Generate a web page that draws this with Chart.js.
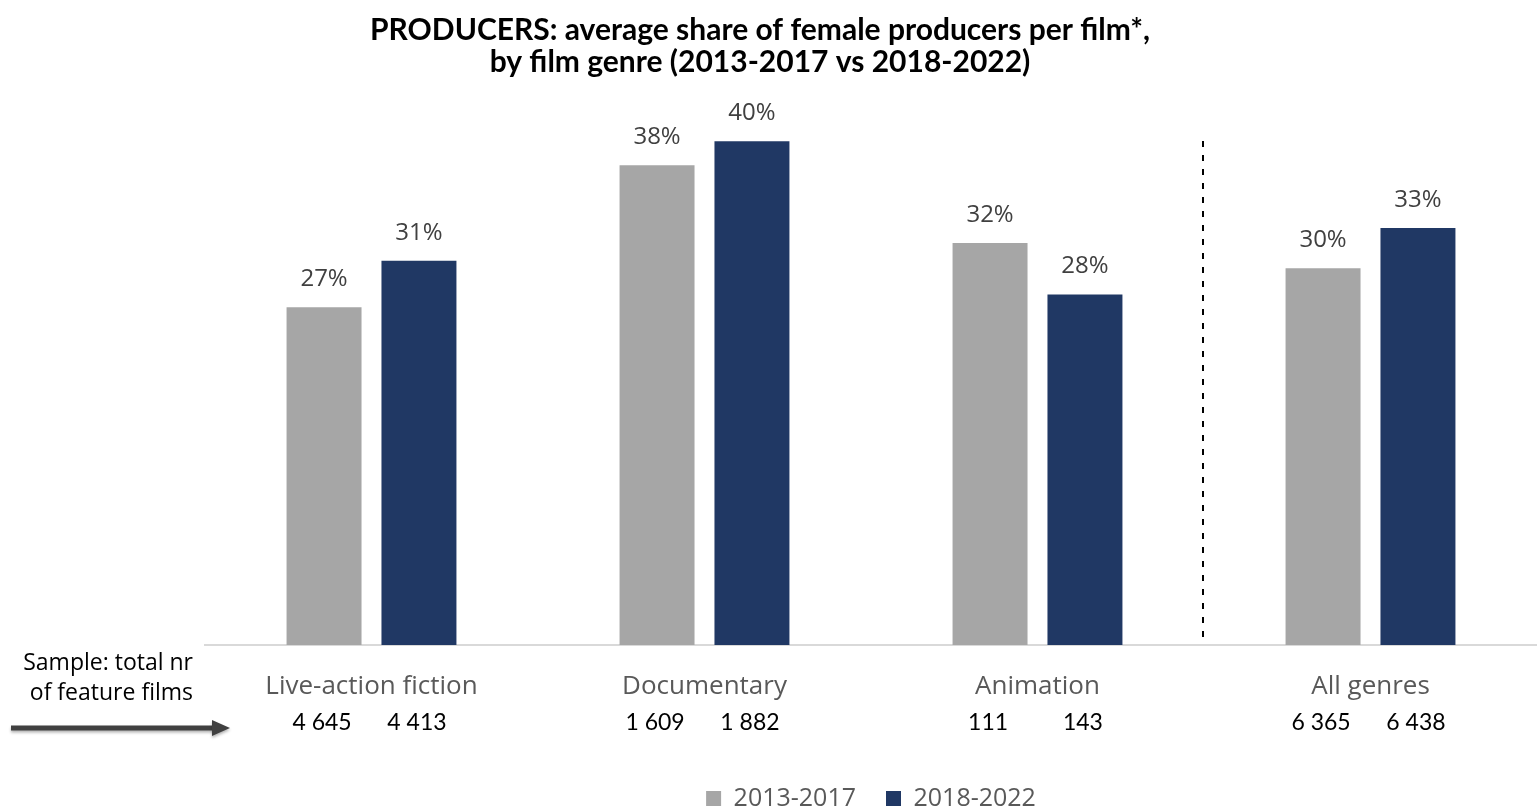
<!DOCTYPE html>
<html>
<head>
<meta charset="utf-8">
<script src="https://cdn.jsdelivr.net/npm/chart.js@4.4.1/dist/chart.umd.min.js"></script>
<style>
  html, body { margin: 0; padding: 0; background: #fff; }
  #wrap { width: 1537px; height: 809px; }
</style>
</head>
<body>
<div id="wrap"><canvas id="genreChart" width="1537" height="809"></canvas></div>
<script>
// chart data
const genres = ['Live-action fiction', 'Documentary', 'Animation', 'All genres'];
const share2013 = [26.9, 38.2, 32.0, 30.0];
const share2018 = [30.6, 40.1, 27.9, 33.2];
const films2013 = ['4 645', '1 609', '111', '6 365'];
const films2018 = ['4 413', '1 882', '143', '6 438'];
const periodLabels = ['2013-2017', '2018-2022'];
const titleLines = ['PRODUCERS: average share of female producers per film*,', 'by film genre (2013-2017 vs 2018-2022)'];
const sampleNote = ['Sample: total nr', 'of feature films'];

// draws title, % labels, sample counts, the arrow and the separator line
const extrasPlugin = {
    id: 'extras',
    afterDraw(chart) {
        const ctx = chart.ctx;
        const area = chart.chartArea;
        ctx.save();

        // title
        ctx.fillStyle = '#000';
        ctx.font = 'bold 30px Lato';
        ctx.textAlign = 'center';
        ctx.textBaseline = 'middle';
        ctx.fillText(titleLines[0], 760, 30);
        ctx.fillText(titleLines[1], 760, 62);

        // value labels above bars
        ctx.font = '24px "Open Sans"';
        ctx.fillStyle = '#404040';
        chart.data.datasets.forEach((ds, d) => {
            chart.getDatasetMeta(d).data.forEach((bar, i) => {
                ctx.fillText(Math.round(ds.data[i]) + '%', bar.x, bar.y - 28);
            });
        });

        // sample counts under category labels
        ctx.font = '23px Lato';
        ctx.fillStyle = '#000';
        const m0 = chart.getDatasetMeta(0).data;
        const m1 = chart.getDatasetMeta(1).data;
        genres.forEach((g, i) => {
            ctx.fillText(films2013[i], m0[i].x - 2, 723);
            ctx.fillText(films2018[i], m1[i].x - 2, 723);
        });

        // left note
        ctx.font = '23px "Open Sans"';
        ctx.textAlign = 'right';
        ctx.fillText(sampleNote[0], 193, 663);
        ctx.fillText(sampleNote[1], 193, 693);

        // arrow
        ctx.strokeStyle = '#404040';
        ctx.fillStyle = '#404040';
        ctx.lineWidth = 5;
        ctx.shadowColor = 'rgba(0,0,0,0.3)';
        ctx.shadowBlur = 3;
        ctx.shadowOffsetY = 2;
        ctx.beginPath();
        ctx.moveTo(11, 728);
        ctx.lineTo(214, 728);
        ctx.stroke();
        ctx.beginPath();
        ctx.moveTo(230, 728);
        ctx.lineTo(212, 720);
        ctx.lineTo(212, 736);
        ctx.closePath();
        ctx.fill();
        ctx.shadowColor = 'transparent';

        // dashed separator between Animation and All genres
        const x = chart.scales.x;
        const sepX = (x.getPixelForValue(2) + x.getPixelForValue(3)) / 2 - 1;
        ctx.strokeStyle = '#000';
        ctx.lineWidth = 2;
        ctx.setLineDash([6, 8]);
        ctx.beginPath();
        ctx.moveTo(sepX, 141);
        ctx.lineTo(sepX, area.bottom - 4);
        ctx.stroke();

        ctx.restore();
    }
};

const ctx = document.getElementById('genreChart');
new Chart(ctx, {
    type: 'bar',
    data: {
        labels: genres,
        datasets: [{
            label: periodLabels[0],
            data: share2013,
            backgroundColor: '#A6A6A6',
            barPercentage: 0.79,
            categoryPercentage: 0.57
        }, {
            label: periodLabels[1],
            data: share2018,
            backgroundColor: '#203864',
            barPercentage: 0.79,
            categoryPercentage: 0.57
        }]
    },
    options: {
        responsive: false,
        animation: false,
        // negative bottom padding lets the legend sit lower while keeping its item gap
        layout: { padding: { top: 17, left: 205, right: 0, bottom: -12 } },
        plugins: {
            legend: {
                position: 'bottom',
                labels: {
                    boxWidth: 15,
                    boxHeight: 15,
                    color: '#595959',
                    font: { family: 'Open Sans', size: 25 },
                    padding: 30
                }
            },
            tooltip: { enabled: false }
        },
        scales: {
            x: {
                grid: { display: false },
                border: { display: true, color: '#D9D9D9', width: 2 },
                ticks: {
                    color: '#595959',
                    font: { family: 'Open Sans', size: 26 },
                    padding: 18,
                    maxRotation: 0
                },
                afterFit(scale) { scale.height = 111; }
            },
            y: {
                display: false,
                min: 0,
                max: 50
            }
        }
    },
    plugins: [extrasPlugin]
});
</script>
</body>
</html>
